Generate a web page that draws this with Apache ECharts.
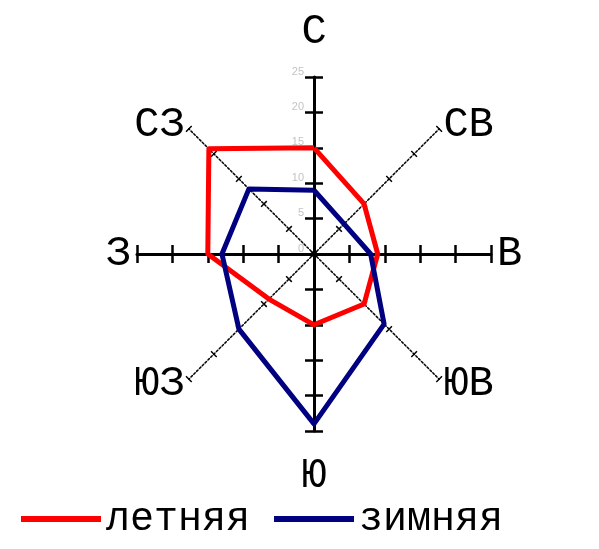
<!DOCTYPE html>
<html>
<head>
<meta charset="utf-8">
<script src="https://cdn.jsdelivr.net/npm/echarts@6/dist/echarts.min.js"></script>
<style>
  html, body { margin: 0; padding: 0; background: #fff; }
  #main { width: 599px; height: 549px; }
</style>
</head>
<body>
<div id="main"></div>
<script>
// directions clockwise from north
var directions = ['С', 'СВ', 'В', 'ЮВ', 'Ю', 'ЮЗ', 'З', 'СЗ'];
var summer = [15, 10, 9, 10, 10, 9, 15, 21];   // летняя
var winter = [9, 6, 8, 14, 24, 15, 13, 13];    // зимняя
var seriesNames = ['летняя', 'зимняя'];
var maxValue = 25;

// radar goes counter-clockwise, so reorder: С, СЗ, З, ЮЗ, Ю, ЮВ, В, СВ
var order = [0, 7, 6, 5, 4, 3, 2, 1];
function ccw(arr) { return order.map(function (i) { return arr[i]; }); }

var cx = 314, cy = 254;
var radius = 177;
var font = '"Liberation Mono", "DejaVu Sans Mono", monospace';

var myChart = echarts.init(document.getElementById('main'));

function baseRadar(extra) {
    var r = {
        center: [cx, cy],
        radius: radius,
        splitNumber: 5,
        shape: 'polygon',
        splitLine: {show: false},
        splitArea: {show: false},
        axisLine: {show: false},
        axisTick: {show: false},
        axisLabel: {show: false},
        axisName: {show: false}
    };
    for (var k in extra) r[k] = extra[k];
    return r;
}

function ind(names) {
    return names.map(function (n) { return {name: n, min: 0, max: maxValue}; });
}

var ccwDirs = ccw(directions);
var radars = [];

// 0: data radar, dotted diagonals
radars.push(baseRadar({
    indicator: ind(ccwDirs.map(function () { return ''; })),
    axisLine: {show: true, lineStyle: {color: '#000', width: 1.5, type: [2, 2]}}
}));
// 1: names for E/W and diagonals
radars.push(baseRadar({
    indicator: ind(ccwDirs.map(function (d) { return (d === 'С' || d === 'Ю') ? '' : d; })),
    nameGap: 6,
    axisName: {show: true, color: '#000', fontFamily: font, fontSize: 42}
}));
// 2: names for N/S (larger gap)
radars.push(baseRadar({
    indicator: ind(ccwDirs.map(function (d) { return (d === 'С' || d === 'Ю') ? d : ''; })),
    nameGap: 24,
    axisName: {show: true, color: '#000', fontFamily: font, fontSize: 42}
}));
// 3: solid cross N-W-S-E
radars.push(baseRadar({
    indicator: ind(['', '', '', '']),
    axisLine: {show: true, lineStyle: {color: '#000', width: 3}}
}));
// 4: value labels on the north axis
radars.push(baseRadar({
    indicator: ind(['']),
    axisLabel: {show: true, color: '#c4c4c4', fontSize: 11, fontFamily: 'Arial, sans-serif',
        margin: 10, verticalAlign: 'bottom'}
}));
// 5..12: one-axis radars for ticks crossing both sides of each axis
ccwDirs.forEach(function (d, i) {
    var ang = 90 + i * 45;
    var cardinal = (i % 2 === 0);
    var len = cardinal ? 18 : 8;
    var rad = ang * Math.PI / 180;
    radars.push(baseRadar({
        indicator: ind(['']),
        startAngle: ang,
        center: [cx + Math.sin(rad) * len / 2, cy + Math.cos(rad) * len / 2],
        axisTick: {show: true, length: len, lineStyle: {color: '#000', width: cardinal ? 2.5 : 1.5}}
    }));
});

myChart.setOption({
    animation: false,
    backgroundColor: '#fff',
    legend: {
        data: seriesNames,
        left: 16,
        top: 494,
        icon: 'rect',
        itemWidth: 80,
        itemHeight: 6,
        itemGap: 24,
        textStyle: {fontFamily: font, fontSize: 40, color: '#000'}
    },
    radar: radars,
    series: [{
        type: 'radar',
        radarIndex: 0,
        symbol: 'none',
        z: 5,
        data: [
            {
                name: seriesNames[0],
                value: ccw(summer),
                itemStyle: {color: '#ff0000'},
                lineStyle: {color: '#ff0000', width: 5}
            },
            {
                name: seriesNames[1],
                value: ccw(winter),
                itemStyle: {color: '#000080'},
                lineStyle: {color: '#000080', width: 5}
            }
        ]
    }]
});
</script>
</body>
</html>
